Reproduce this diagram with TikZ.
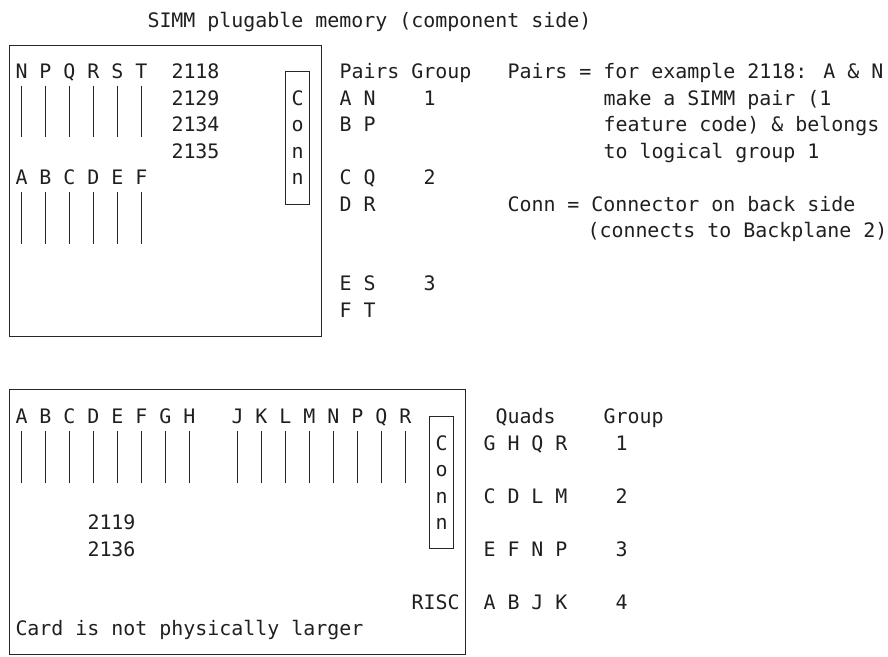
\documentclass[tikz,border=0pt]{standalone}
\usepackage{fontspec}
\newfontfamily\monof{DejaVu Sans Mono}
\begin{document}
\begin{tikzpicture}[x=12pt,y=-26.52pt,
  txt/.style={anchor=base west,inner sep=0pt,outer sep=0pt,yshift=-7.25pt,
    font=\monof\fontsize{19.93}{24}\selectfont,text=black!88},
  frame/.style={draw=black!85,line width=1pt},
  pin/.style={draw=black!85,line width=1.3pt}]
\useasboundingbox (-0.7917,-1.6968) rectangle (73.2083,23.0392);

% title
\node[txt,yshift=-1.5pt] (title) at (11.5,-1) {SIMM plugable memory (component side)};

% ---------- upper card ----------
\draw[frame] (0,0) rectangle (26,11);
\draw[frame] (23,1) rectangle (25,6);
\node[txt] (uTop) at (0.5,1) {N P Q R S T};
\node[txt] (fc1) at (13.5,1) {2118};
\node[txt] (fc2) at (13.5,2) {2129};
\node[txt] (fc3) at (13.5,3) {2134};
\node[txt] (fc4) at (13.5,4) {2135};
\node[txt] (uBot) at (0.5,5) {A B C D E F};
\foreach \c in {1,3,...,11} {
  \draw[pin] (\c,1.55) -- (\c,3.47);
  \draw[pin] (\c,5.55) -- (\c,7.5);
}
\node[txt] (uc1) at (23.5,2) {C};
\node[txt] (uc2) at (23.5,3) {o};
\node[txt] (uc3) at (23.5,4) {n};
\node[txt] (uc4) at (23.5,5) {n};

% pairs table
\node[txt] (ph) at (27.5,1) {Pairs Group};
\node[txt] (p1) at (27.5,2) {A N};
\node[txt] (g1) at (34.5,2) {1};
\node[txt] (p2) at (27.5,3) {B P};
\node[txt] (p3) at (27.5,5) {C Q};
\node[txt] (g2) at (34.5,5) {2};
\node[txt] (p4) at (27.5,6) {D R};
\node[txt] (p5) at (27.5,9) {E S};
\node[txt] (g3) at (34.5,9) {3};
\node[txt] (p6) at (27.5,10) {F T};

% notes
\node[txt] (n1) at (41.5,1) {Pairs = for example 2118: A \& N};
\node[txt] (n2) at (49.5,2) {make a SIMM pair (1};
\node[txt] (n3) at (49.5,3) {feature code) \& belongs};
\node[txt] (n4) at (49.5,4) {to logical group 1};
\node[txt] (n5) at (41.5,6) {Conn = Connector on back side};
\node[txt,xshift=-4pt] (n6) at (48.5,7) {(connects to Backplane 2)};

% ---------- lower card ----------
\draw[frame] (0,13) rectangle (38,23);
\draw[frame] (35,14) rectangle (37,19);
\node[txt] (lA) at (0.5,14) {A B C D E F G H};
\node[txt] (lJ) at (18.5,14) {J K L M N P Q R};
\foreach \c in {1,3,...,15,19,21,...,33} {
  \draw[pin] (\c,14.56) -- (\c,16.5);
}
\node[txt] (lc1) at (35.5,15) {C};
\node[txt] (lc2) at (35.5,16) {o};
\node[txt] (lc3) at (35.5,17) {n};
\node[txt] (lc4) at (35.5,18) {n};
\node[txt] (fc5) at (6.5,18) {2119};
\node[txt] (fc6) at (6.5,19) {2136};
\node[txt] (risc) at (33.5,21) {RISC};
\node[txt] (card) at (0.5,22) {Card is not physically larger};

% quads table
\node[txt] (qh) at (40.5,14) {Quads};
\node[txt] (qg) at (49.5,14) {Group};
\node[txt] (q1) at (39.5,15) {G H Q R};
\node[txt] (qg1) at (50.5,15) {1};
\node[txt] (q2) at (39.5,17) {C D L M};
\node[txt] (qg2) at (50.5,17) {2};
\node[txt] (q3) at (39.5,19) {E F N P};
\node[txt] (qg3) at (50.5,19) {3};
\node[txt] (q4) at (39.5,21) {A B J K};
\node[txt] (qg4) at (50.5,21) {4};
\end{tikzpicture}
\end{document}
